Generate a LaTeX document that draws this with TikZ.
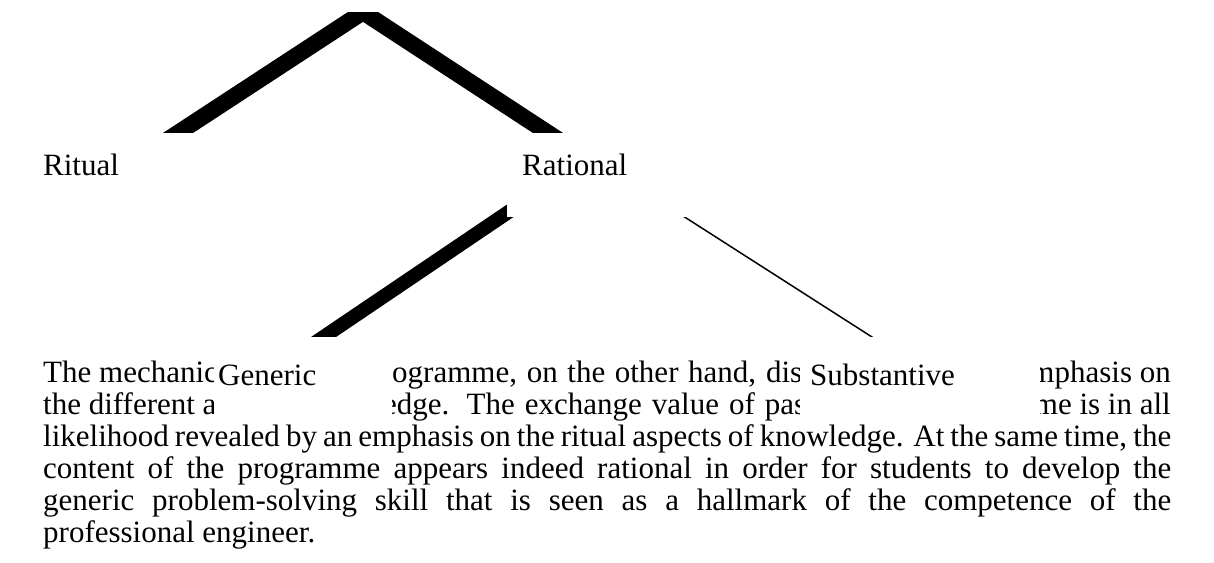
\documentclass[tikz,border=0pt]{standalone}
\usepackage{fontspec}
\setmainfont{Liberation Serif}
\tikzset{
  txt/.style={inner sep=0pt, anchor=base west, font=\fontsize{31}{32}\selectfont},
  lbl/.style={fill=white, inner xsep=10pt, inner ysep=0pt, align=left,
    anchor=base west, font=\fontsize{31}{32}\selectfont},
}
\begin{document}
\begin{tikzpicture}[x=1pt,y=-1pt]
  \useasboundingbox (0,0) rectangle (1214,562);
  % text under the boxes
  \node[txt] (mech) at (43,382) {The mechanic};
  \node[txt] (progr) at (392,382) {\makebox[410pt][s]{ogramme, on the other hand, dis}};
  \node[txt, anchor=base east] (emph) at (1171,382) {mphasis on};
  \node[txt] (diff) at (43,414) {the different a};
  \node[txt] (exch) at (383,414) {\makebox[423pt][s]{edge. The exchange value of pas}};
  \node[txt, anchor=base east] (inall) at (1171,414) {me is in all};
  \node[txt, text width=1128pt, align=justify] (para) at (43,446)
    {likelihood revealed by an emphasis on the ritual aspects of knowledge. At the same time, the\linebreak
     content of the programme appears indeed rational in order for students to develop the\linebreak
     generic problem-solving skill that is seen as a hallmark of the competence of the\linebreak
     professional engineer.};
  % branches
  \coordinate (top) at (363,12);
  \coordinate (ritin) at (136.7,160);
  \coordinate (ratin) at (589.3,160);
  \coordinate (genup) at (541,190);
  \coordinate (genin) at (289.5,360);
  \coordinate (subup) at (651.8,196);
  \coordinate (subin) at (903.2,357);
  \begin{scope}
    \clip (0,12) rectangle (1214,562);
    \draw[line width=16.5pt] (top) -- (ritin);
    \draw[line width=16.5pt] (top) -- (ratin);
  \end{scope}
  \draw[line width=14pt] (genup) -- (genin);
  \draw[line width=1.5pt] (subup) -- (subin);
  % boxes
  \node[lbl, inner xsep=15pt, text width=162pt, text height=42pt, text depth=42pt] (rit) at (28,175) {Ritual};
  \node[lbl, inner xsep=15pt, text width=223pt, text height=42pt, text depth=42pt] (rat) at (507,175) {Rational};
  \node[lbl, inner xsep=4pt, text width=170pt, text height=48pt, text depth=35pt] (gen) at (214,385) {Generic};
  \node[lbl, text width=220pt, text height=48pt, text depth=35pt] (sub) at (800,385) {Substantive};
\end{tikzpicture}
\end{document}
